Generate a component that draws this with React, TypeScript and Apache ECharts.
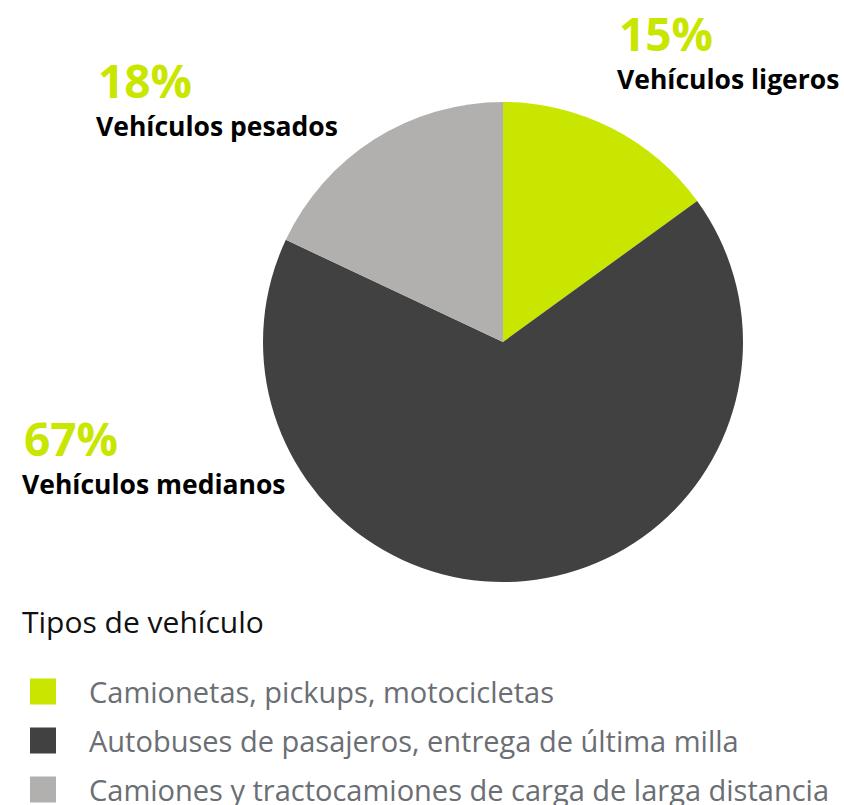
import React, { useEffect, useRef } from "react";
import * as echarts from "echarts";

const categories = ["Vehículos ligeros", "Vehículos medianos", "Vehículos pesados"];
const shares = [15, 67, 18];
const legendLabels = [
  "Camionetas, pickups, motocicletas",
  "Autobuses de pasajeros, entrega de última milla",
  "Camiones y tractocamiones de carga de larga distancia",
];
const colors = ["#c8e600", "#414141", "#b1b0ae"];
const legendTitle = "Tipos de vehículo";

const labelPos = [
  { x: 617, y: 3 },
  { x: 22, y: 408 },
  { x: 96, y: 50 },
];

export default function App() {
  const ref = useRef<HTMLDivElement>(null);
  useEffect(() => {
    if (!ref.current) return;
    const chart = echarts.init(ref.current, null, { renderer: "svg" });
    const font = "'Open Sans', 'Noto Sans', sans-serif";
    chart.setOption({
      animation: false,
      textStyle: { fontFamily: font },
      title: {
        text: legendTitle,
        left: 22,
        top: 606,
        padding: 0,
        textStyle: { fontFamily: font, fontSize: 30, fontWeight: "normal", color: "#111" },
      },
      legend: {
        orient: "vertical",
        left: 30,
        top: 677,
        height: 200,
        padding: 0,
        itemWidth: 26,
        itemHeight: 26,
        itemGap: 20,
        icon: "rect",
        data: categories,
        formatter: (name: string) => legendLabels[categories.indexOf(name)],
        textStyle: {
          fontFamily: font,
          fontSize: 29,
          lineHeight: 26,
          color: "#6b6e73",
          padding: [0, 0, 0, 28],
        },
      },
      series: [
        {
          type: "pie",
          center: [503, 342],
          radius: 240,
          startAngle: 90,
          clockwise: true,
          avoidLabelOverlap: false,
          itemStyle: { borderWidth: 0 },
          emphasis: { disabled: true },
          labelLine: { show: false },
          label: {
            show: true,
            position: "outside",
            formatter: "{pct|{c}%}\n{name|{b}}",
            rich: {
              pct: {
                fontFamily: font,
                fontSize: 46,
                fontWeight: "bold",
                color: "#c8e600",
                lineHeight: 60,
                padding: [0, 0, 0, 2],
              },
              name: {
                fontFamily: font,
                fontSize: 26.5,
                fontWeight: "bold",
                color: "#000",
                lineHeight: 32,
              },
            },
          },
          labelLayout: (params: any) => ({
            x: labelPos[params.dataIndex].x,
            y: labelPos[params.dataIndex].y,
            align: "left",
            verticalAlign: "top",
            hideOverlap: false,
          }),
          data: categories.map((name, i) => ({
            name,
            value: shares[i],
            itemStyle: { color: colors[i] },
          })),
        },
      ],
    });
    return () => chart.dispose();
  }, []);
  return (
    <div
      ref={ref}
      style={{ position: "fixed", left: 0, top: 0, width: 844, height: 805, background: "#fff" }}
    />
  );
}
